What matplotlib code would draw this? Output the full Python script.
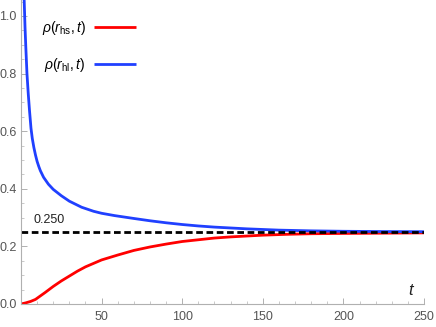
import matplotlib
matplotlib.use("Agg")
import matplotlib.pyplot as plt
from matplotlib.ticker import MultipleLocator

plt.rcParams['font.family'] = ['Liberation Sans', 'DejaVu Sans']
plt.rcParams['mathtext.fontset'] = 'custom'
plt.rcParams['mathtext.it'] = 'Liberation Sans:italic'
plt.rcParams['mathtext.rm'] = 'Liberation Sans'

# data
t_hs = [0, 3, 6, 9, 12, 15, 20, 25, 30, 35, 40, 45, 50, 60, 70, 80, 90, 100,
        110, 120, 130, 140, 150, 165, 180, 200, 225, 250]
rho_hs = [0.0, 0.004, 0.009, 0.016, 0.028, 0.040, 0.061, 0.080, 0.097, 0.114,
          0.129, 0.141, 0.153, 0.170, 0.186, 0.198, 0.208, 0.217, 0.223, 0.229,
          0.233, 0.236, 0.239, 0.242, 0.244, 0.245, 0.246, 0.247]

t_hl = [1.6, 2, 2.5, 3, 3.7, 4.5, 5.3, 6.2, 7, 8, 9, 10, 11, 12, 14, 17, 20,
        25, 30, 37.6, 45, 50, 58, 70, 80, 90, 100, 110, 120, 140, 160, 180,
        200, 225, 250]
rho_hl = [1.10, 1.05, 0.96, 0.89, 0.80, 0.73, 0.67, 0.61, 0.575, 0.543, 0.517,
          0.495, 0.478, 0.463, 0.440, 0.416, 0.398, 0.376, 0.357, 0.336, 0.322,
          0.315, 0.307, 0.297, 0.289, 0.282, 0.276, 0.271, 0.267, 0.261,
          0.2565, 0.254, 0.2525, 0.2515, 0.251]

steady = 0.25
steady_label = "0.250"
x_range = [0, 250]

fig = plt.figure(figsize=(4.36, 3.27), dpi=100)
ax = fig.add_axes([21/436, 23/327, 403/436, 304/327])

ax.plot(t_hs, rho_hs, color='#ff0000', lw=2.0, label=r'$\rho(r_{\mathrm{hs}},t)$', solid_capstyle='butt')
ax.plot(t_hl, rho_hl, color='#2040ff', lw=2.0, label=r'$\rho(r_{\mathrm{hl}},t)$', solid_capstyle='butt')
ax.plot(x_range, [steady, steady], color='black', lw=2.0, ls=(0, (2.4, 1.3)))
ax.text(8, steady + 0.022, steady_label, fontsize=9, color='#222222', ha='left', va='bottom')

ax.set_xlim(0, 250)
ax.set_ylim(0, 304/288)

for s in ['top', 'right']:
    ax.spines[s].set_visible(False)
for s in ['left', 'bottom']:
    ax.spines[s].set_color('#b0b0b0')
    ax.spines[s].set_linewidth(0.8)

ax.xaxis.set_major_locator(MultipleLocator(50))
ax.xaxis.set_minor_locator(MultipleLocator(10))
ax.yaxis.set_major_locator(MultipleLocator(0.2))
ax.yaxis.set_minor_locator(MultipleLocator(0.05))
ax.set_xticks([50, 100, 150, 200, 250])
ax.set_xticklabels(['50', '100', '150', '200', '250'])
ax.set_yticks([0.0, 0.2, 0.4, 0.6, 0.8, 1.0])
ax.set_yticklabels(['0.0', '0.2', '0.4', '0.6', '0.8', '1.0'])
ax.tick_params(which='major', direction='in', length=4, width=0.7, color='#b0b0b0',
               labelsize=9, labelcolor='#555555')
ax.tick_params(axis='x', which='major', pad=5)
ax.tick_params(axis='y', which='major', pad=3)
ax.tick_params(which='minor', direction='in', length=2, width=0.6, color='#c0c0c0')

ax.text(1.0 - 0.03, 0.02, r'$t$', transform=ax.transAxes, fontsize=12,
        ha='center', va='bottom', color='#222222')

leg = ax.legend(loc='upper left', bbox_to_anchor=(0.02, 0.98), frameon=False,
                markerfirst=False, fontsize=10, handlelength=3.0,
                labelspacing=1.4, handletextpad=0.6)

fig.savefig('out.png', dpi=100)
